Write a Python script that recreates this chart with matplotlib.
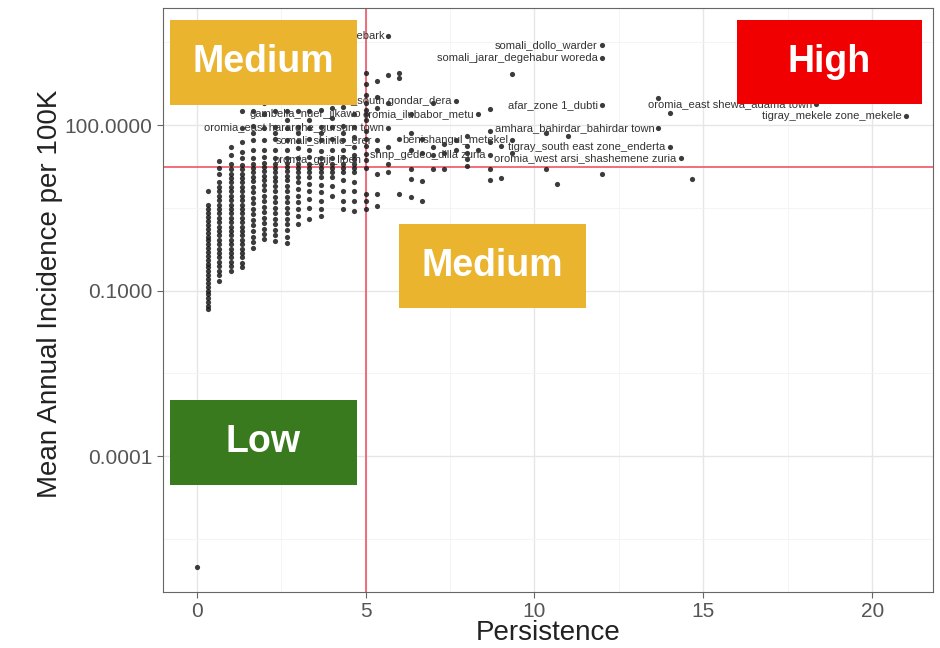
import matplotlib
matplotlib.use('Agg')
import matplotlib.pyplot as plt
from matplotlib.patches import Rectangle
from matplotlib.ticker import FixedLocator, NullFormatter
import numpy as np

plt.rcParams['font.family'] = ['Liberation Sans', 'DejaVu Sans']

# persistence column -> log10(mean annual incidence) of the woredas in it
dense_cols = {
    0.0: [-6.0],
    0.33: [0.80, 0.55, 0.47, 0.40, 0.33, 0.26, 0.19, 0.12, 0.05, -0.02, -0.09, -0.16, -0.23, -0.30, -0.37,
           -0.44, -0.51, -0.58, -0.65, -0.72, -0.79, -0.86, -0.93, -1.00, -1.07, -1.14, -1.21, -1.28, -1.33],
    0.67: [1.35, 1.22, 1.12, 0.97, 0.88, 0.80, 0.72, 0.64, 0.56, 0.48, 0.40, 0.32, 0.24, 0.16, 0.08, 0.00,
           -0.08, -0.16, -0.24, -0.32, -0.40, -0.48, -0.56, -0.64, -0.72, -0.82],
    1.0: [1.60, 1.45, 1.30, 1.20, 1.12, 1.04, 0.96, 0.88, 0.80, 0.72, 0.64, 0.56, 0.48, 0.40, 0.32, 0.24,
          0.16, 0.08, 0.00, -0.08, -0.16, -0.24, -0.32, -0.40, -0.48, -0.56, -0.64],
    1.33: [2.25, 1.95, 1.70, 1.52, 1.40, 1.28, 1.20, 1.12, 1.04, 0.96, 0.88, 0.80, 0.72, 0.64, 0.56, 0.48,
           0.40, 0.32, 0.24, 0.16, 0.08, 0.00, -0.08, -0.16, -0.24, -0.32, -0.40, -0.50, -0.58],
    1.67: [2.25, 1.98, 1.85, 1.72, 1.55, 1.40, 1.30, 1.22, 1.14, 1.06, 0.98, 0.88, 0.78, 0.68, 0.58, 0.48,
           0.38, 0.28, 0.18, 0.08, -0.02, -0.12, -0.22],
    2.0: [2.40, 2.20, 1.95, 1.72, 1.55, 1.42, 1.32, 1.24, 1.16, 1.08, 1.00, 0.92, 0.82, 0.72, 0.62, 0.52,
          0.42, 0.32, 0.22, 0.12, 0.02, -0.06],
    2.33: [2.25, 1.96, 1.85, 1.75, 1.55, 1.40, 1.30, 1.22, 1.14, 1.06, 0.98, 0.90, 0.80, 0.70, 0.60, 0.50,
           0.40, 0.30, 0.20, 0.10, 0.00, -0.10],
    2.67: [2.25, 2.10, 1.95, 1.72, 1.55, 1.40, 1.32, 1.24, 1.16, 1.08, 1.00, 0.90, 0.80, 0.70, 0.60, 0.50,
           0.40, 0.30, 0.20, 0.10, -0.02, -0.13],
    3.0: [2.26, 1.96, 1.85, 1.71, 1.58, 1.40, 1.30, 1.22, 1.14, 1.06, 0.96, 0.84, 0.72, 0.60, 0.48, 0.36,
          0.21],
    3.33: [2.25, 2.10, 1.95, 1.74, 1.55, 1.42, 1.30, 1.22, 1.14, 1.05, 0.93, 0.80, 0.66, 0.50, 0.30],
    3.67: [2.27, 1.97, 1.85, 1.72, 1.53, 1.41, 1.30, 1.22, 1.14, 1.05, 0.92, 0.78, 0.62, 0.48, 0.36],
    4.0: [2.30, 2.12, 1.97, 1.75, 1.55, 1.40, 1.30, 1.22, 1.14, 1.05, 0.90, 0.72],
    4.33: [2.32, 1.98, 1.85, 1.73, 1.55, 1.42, 1.30, 1.22, 1.14, 1.00, 0.80, 0.62, 0.48],
    4.67: [2.65, 2.45, 2.20, 1.97, 1.78, 1.60, 1.45, 1.38, 1.30, 1.22, 1.14, 0.96, 0.80, 0.62, 0.45],
    5.0: [2.95, 2.75, 2.55, 2.40, 2.28, 2.20, 2.10, 1.90, 1.75, 1.62, 1.48, 1.36, 1.22, 0.75, 0.62, 0.48],
}

extra_x = [5.33, 5.33, 5.33, 5.33, 5.33, 5.33, 5.33, 5.33,
           5.67, 5.67, 5.67, 5.67, 5.67, 5.67, 5.67,
           6.0, 6.0, 6.0, 6.0,
           6.33, 6.33, 6.33, 6.33, 6.33, 6.33,
           6.67, 6.67, 6.67, 6.67,
           7.0, 7.0, 7.0, 7.0,
           7.33, 7.33, 7.33,
           7.67, 7.67, 7.67,
           8.0, 8.0, 8.0, 8.0, 8.0,
           8.33, 8.33,
           8.67, 8.67, 8.67, 8.67, 8.67, 8.67,
           9.0, 9.0,
           9.33, 9.33, 9.33,
           10.33, 10.33, 10.67, 11.0,
           12.0, 12.0, 12.0, 12.0,
           13.67, 13.67, 14.0, 14.0, 14.33, 14.67,
           18.33, 21.0]
extra_log = [2.80, 2.50, 2.30, 1.72, 1.55, 1.11, 0.75, 0.54,
             3.62, 2.90, 2.40, 1.95, 1.60, 1.30, 1.15,
             2.95, 2.85, 1.75, 0.75,
             2.20, 1.85, 1.55, 1.20, 1.02, 0.70,
             1.75, 1.50, 0.99, 0.63,
             2.40, 1.60, 1.45, 1.20,
             1.65, 1.50, 1.20,
             2.43, 1.72, 1.55,
             1.80, 1.62, 1.50, 1.38, 1.25,
             2.20, 1.55,
             2.29, 1.90, 1.70, 1.45, 1.20, 1.00,
             1.62, 1.04,
             2.92, 1.72, 1.50,
             1.86, 1.20, 0.93, 1.80,
             3.45, 3.21, 2.36, 1.11,
             2.49, 1.95, 2.22, 1.60, 1.40, 1.02,
             2.38, 2.16]

label_names = ["amhara_north gondar_debark", "somali_dollo_warder", "somali_jarar_degehabur woreda",
               "afar_zone 1_dubti", "oromia_east shewa_adama town", "tigray_mekele zone_mekele",
               "amhara_bahirdar_bahirdar town", "tigray_south east zone_enderta",
               "oromia_west arsi_shashemene zuria", "oromia_ilubabor_metu",
               "amhara_south gondar_dera", "oromia_east hararghe_gursum town",
               "benishangul_metekel", "gambella_nuer_jikawo", "snnp_gedeo_dilla zuria",
               "oromia_guji_liben", "somali_shinile_erer"]
label_x = [5.67, 12.0, 12.0, 12.0, 18.33, 21.0, 13.67, 14.0, 14.33, 8.33,
           7.67, 5.67, 9.33, 5.0, 8.67, 5.0, 5.33]
label_log = [3.62, 3.45, 3.21, 2.36, 2.38, 2.16, 1.95, 1.60, 1.40, 2.20,
             2.43, 1.95, 1.72, 2.20, 1.45, 1.36, 1.72]

persistence = []
log_inc = []
for col, vals in dense_cols.items():
    persistence += [col] * len(vals)
    log_inc += vals
persistence += extra_x
log_inc += extra_log
incidence = 10 ** np.array(log_inc)

fig = plt.figure(figsize=(9.4, 6.48), dpi=100)
ax = fig.add_axes([163 / 940, 1 - 592 / 648, 770 / 940, 584 / 648])

ax.set_yscale('log')
ax.set_xlim(-1.0, 21.8)
ax.set_ylim(10 ** -6.46, 10 ** 4.12)

ax.set_xticks([0, 5, 10, 15, 20])
ax.set_xticklabels(['0', '5', '10', '15', '20'])
ax.xaxis.set_minor_locator(FixedLocator([2.5, 7.5, 12.5, 17.5]))
ax.yaxis.set_major_locator(FixedLocator([1e-4, 1e-1, 1e2]))
ax.set_yticklabels(['0.0001', '0.1000', '100.0000'])
ax.yaxis.set_minor_locator(FixedLocator([10 ** -5.5, 10 ** -2.5, 10 ** 0.5, 10 ** 3.5]))
ax.yaxis.set_minor_formatter(NullFormatter())

ax.grid(which='major', color='#E6E6E6', linewidth=1.0)
ax.grid(which='minor', color='#F3F3F3', linewidth=0.6)
ax.set_axisbelow(True)
ax.tick_params(which='major', length=4, width=0.8, color='#666666', labelcolor='#555555', labelsize=15)
ax.tick_params(which='minor', length=0)
for sp in ax.spines.values():
    sp.set_color('#666666')
    sp.set_linewidth(0.8)

ax.axvline(5, color='#F06272', linewidth=1.3, zorder=1.5)
ax.axhline(17.5, color='#F06272', linewidth=1.3, zorder=1.5)

ax.scatter(persistence, incidence, s=14, color='#1a1a1a', alpha=0.85, linewidths=0, zorder=2)

for name, lx, ll in zip(label_names, label_x, label_log):
    ax.text(lx - 0.12, 10 ** ll, name, ha='right', va='center', fontsize=8, color='#333333', zorder=3)

boxes = [("Medium", 0.009, 0.834, 0.243, 0.146, '#EAB42E'),
         ("High", 0.7455, 0.8356, 0.2402, 0.1439, '#F00000'),
         ("Medium", 0.3065, 0.4863, 0.2429, 0.1438, '#EAB42E'),
         ("Low", 0.009, 0.1832, 0.243, 0.1456, '#3A7A1F')]
for txt, bx, by, bw, bh, col in boxes:
    ax.add_patch(Rectangle((bx, by), bw, bh, transform=ax.transAxes, facecolor=col,
                           edgecolor='none', zorder=5))
    ax.text(bx + bw / 2, by + bh / 2, txt, transform=ax.transAxes, ha='center', va='center',
            fontsize=27, fontweight='bold', color='white', zorder=6)

ax.set_xlabel('Persistence', fontsize=20, color='#222222')
ax.set_ylabel('Mean Annual Incidence per 100K', fontsize=20, color='#222222')
ax.xaxis.set_label_coords(0.5, -0.048)
ax.yaxis.set_label_coords(-0.13, 0.51)

fig.savefig('out.png', dpi=100)
